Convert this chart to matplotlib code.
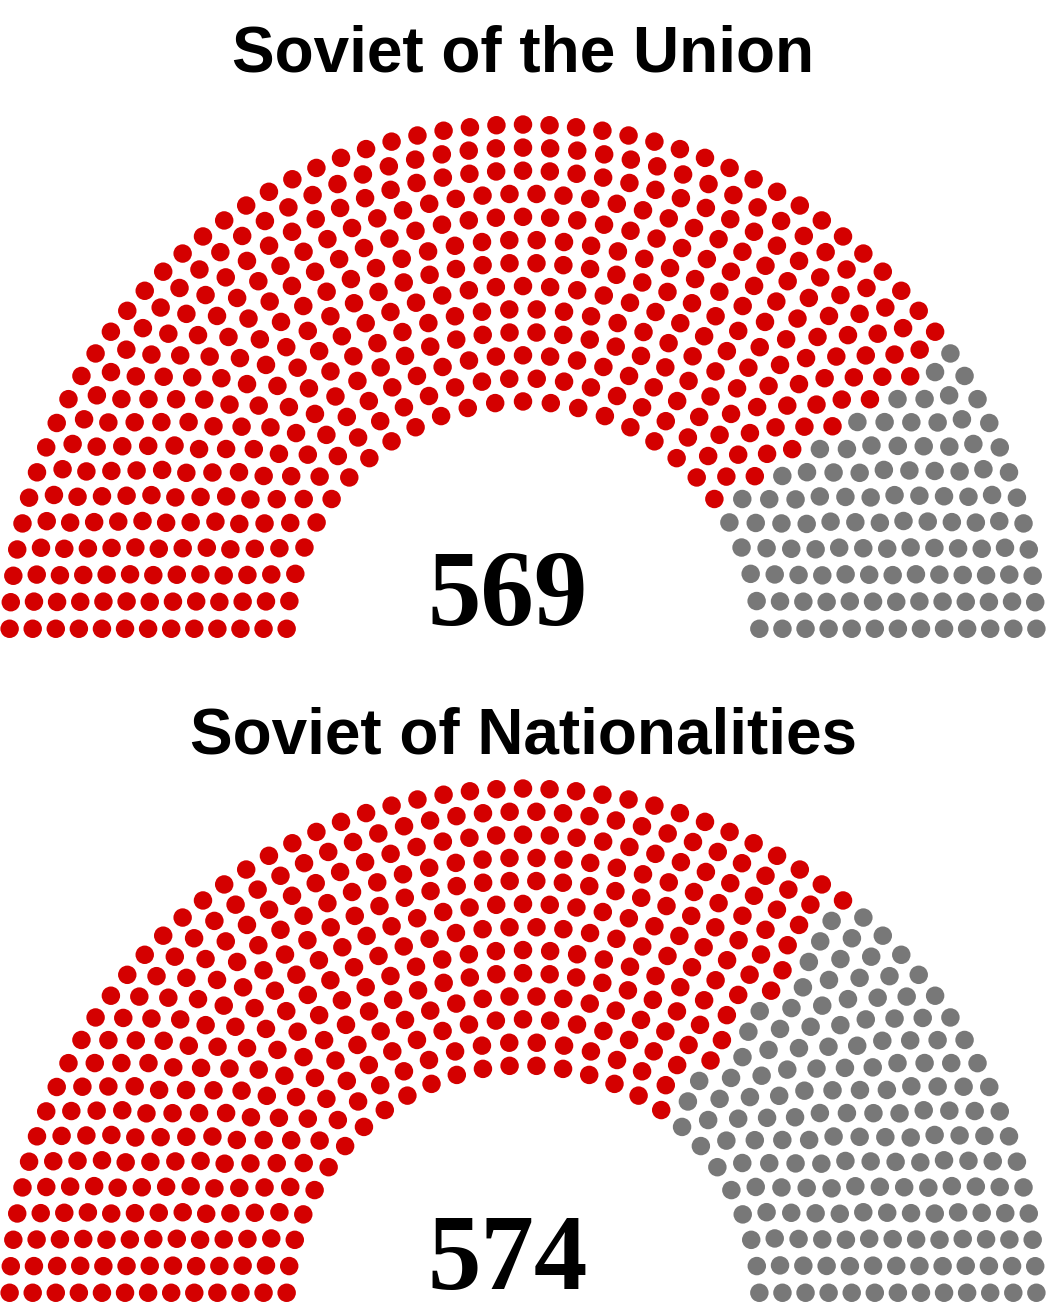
import math
import matplotlib
matplotlib.use("Agg")
import matplotlib.pyplot as plt
from matplotlib.patches import Circle
from matplotlib.collections import PatchCollection

# 1937 Supreme Soviet: seats per party in each chamber
chamber_titles = ["Soviet of the Union", "Soviet of Nationalities"]
party_names = ["CPSU", "Non-party"]
party_colors = ["#d40000", "#787878"]
union_seats = [461, 108]
nationalities_seats = [409, 165]

# max seats that fit in n rows (table of the parliament diagram tool)
row_totals = [3, 15, 33, 61, 95, 138, 189, 247, 313, 388, 469, 559, 657, 762, 876, 997]

W, H = 1046, 1304
SCALE = 300.0  # px per diagram unit


def seat_positions(total):
    rows = next(i + 1 for i, t in enumerate(row_totals) if t >= total)
    radius = 0.4 / rows
    pos = []

    def arc(n, r):
        if n == 1:
            pos.append((math.pi / 2, 1.75, r))
            return
        off = math.sin(radius / r)
        for j in range(n):
            a = j * (math.pi - 2 * off) / (n - 1) + off
            pos.append((a, r * math.cos(a) + 1.75, r * math.sin(a)))

    for i in range(1, rows):
        n = int(total / row_totals[rows - 1] * math.pi /
                (2 * math.asin(2.0 / (3.0 * rows + 4.0 * i - 2.0))))
        arc(n, (3.0 * rows + 4.0 * i - 2.0) / (4.0 * rows))
    # leftover seats go in the outer row
    arc(total - len(pos), (7.0 * rows - 2.0) / (4.0 * rows))
    pos.sort(reverse=True)
    return pos, radius


def draw_chamber(ax, seats):
    total = sum(seats)
    pos, radius = seat_positions(total)
    circles, colors = [], []
    k = 0
    for n, col in zip(seats, party_colors):
        for _ in range(n):
            _, x, y = pos[k]
            circles.append(Circle((x, y), radius))
            colors.append(col)
            k += 1
    ax.add_collection(PatchCollection(circles, facecolors=colors,
                                      edgecolors="none", clip_on=False))
    ax.text(1.70, 13 / SCALE, str(total), ha="center", va="baseline",
            family="Liberation Serif", fontweight="bold", fontsize=77)


fig = plt.figure(figsize=(W / 100, H / 100), dpi=100)


def make_axes(top_px, bottom_px, baseline_px):
    ax = fig.add_axes([0, 1 - bottom_px / H, 1, (bottom_px - top_px) / H])
    ax.set_xlim(1.75 - W / 2 / SCALE, 1.75 + W / 2 / SCALE)
    y0 = -(bottom_px - baseline_px) / SCALE
    ax.set_ylim(y0, y0 + (bottom_px - top_px) / SCALE)
    ax.axis("off")
    return ax


ax1 = make_axes(90, 650, 638)
draw_chamber(ax1, union_seats)
ax2 = make_axes(765, 1304, 1302)
draw_chamber(ax2, nationalities_seats)

fig.text(0.5, 1 - 72 / H, chamber_titles[0], ha="center", va="baseline",
         family="Liberation Sans", fontweight="bold", fontsize=46)
fig.text(0.5, 1 - 754 / H, chamber_titles[1], ha="center", va="baseline",
         family="Liberation Sans", fontweight="bold", fontsize=46)

fig.savefig("out.png", dpi=100, facecolor="white")
